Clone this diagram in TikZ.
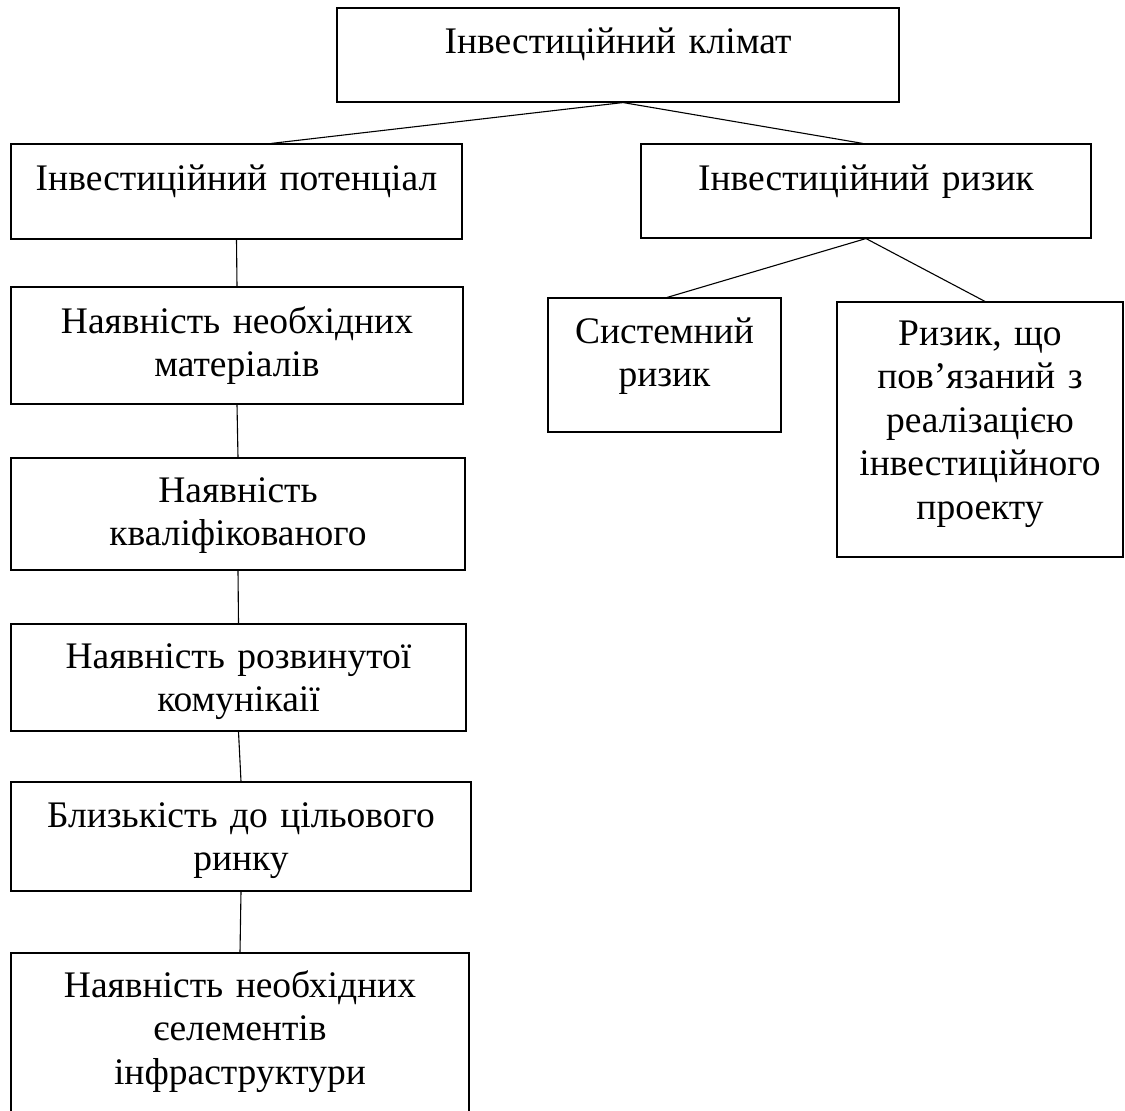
\documentclass[tikz,border=0pt]{standalone}
\usepackage{fontspec}
\setmainfont{Liberation Serif}
\begin{document}
\begin{tikzpicture}[x=1pt,y=-1pt,
  box/.style={draw=black, line width=1.1pt, rectangle, inner sep=0pt},
  txt/.style={anchor=base, align=center, inner sep=0pt, font=\fontsize{37.5}{43.5}\selectfont},
  link/.style={draw=black, line width=1.1pt}]
\useasboundingbox (0,0) rectangle (1125,1111);
\fill[white] (0,0) rectangle (1125,1111);
% boxes
\node[box, minimum width=562pt, minimum height=94pt]  (clim)  at (618,55) {};
\node[box, minimum width=451pt, minimum height=95pt]  (pot)   at (236.5,191.5) {};
\node[box, minimum width=450pt, minimum height=94pt]  (risk)  at (866,191) {};
\node[box, minimum width=452pt, minimum height=117pt] (mat)   at (237,345.5) {};
\node[box, minimum width=233pt, minimum height=134pt] (sys)   at (664.5,365) {};
\node[box, minimum width=286pt, minimum height=255pt] (rel)   at (980,429.5) {};
\node[box, minimum width=454pt, minimum height=112pt] (kval)  at (238,514) {};
\node[box, minimum width=455pt, minimum height=107pt] (komun) at (238.5,677.5) {};
\node[box, minimum width=460pt, minimum height=109pt] (blyz)  at (241,836.5) {};
\node[box, minimum width=458pt, minimum height=172pt] (infra) at (240,1039) {};
% texts
\node[txt, text width=550pt] (climt) at (618,53) {Інвестиційний клімат};
\node[txt, text width=440pt] (pott) at (236.5,190) {Інвестиційний потенціал};
\node[txt, text width=440pt] (riskt) at (866,190) {Інвестиційний ризик};
\node[txt, text width=440pt] (matt) at (237,333) {Наявність необхідних\\матеріалів};
\node[txt, text width=225pt] (syst) at (664.5,343) {Системний\\ризик};
\node[txt, text width=278pt] (relt) at (980,345) {Ризик, що\\пов’язаний з\\реалізацією\\інвестиційного\\проекту};
\node[txt, text width=444pt] (kvalt) at (238,502) {Наявність\\кваліфікованого};
\node[txt, text width=445pt] (komunt) at (238.5,668) {Наявність розвинутої\\комунікаії};
\node[txt, text width=450pt] (blyzt) at (241,827) {Близькість до цільового\\ринку};
\node[txt, text width=448pt] (infrat) at (240,997) {Наявність необхідних\\єелементів\\інфраструктури};
% connectors
\draw[link] ([xshift=5pt]clim.south) -- ([xshift=34.5pt]pot.north);
\draw[link] ([xshift=5pt]clim.south) -- ([xshift=-3pt]risk.north);
\draw[link] (risk.south) -- ([xshift=2.5pt]sys.north);
\draw[link] (risk.south) -- ([xshift=5pt]rel.north);
\draw[link] (pot.south) -- (mat.north);
\draw[link] (mat.south) -- (kval.north);
\draw[link] (kval.south) -- (komun.north);
\draw[link] (komun.south) -- (blyz.north);
\draw[link] (blyz.south) -- (infra.north);
\end{tikzpicture}
\end{document}
